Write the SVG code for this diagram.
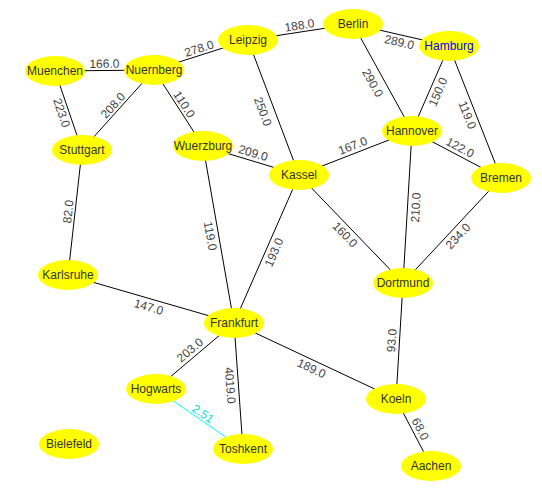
<svg xmlns="http://www.w3.org/2000/svg" width="542" height="502" viewBox="0 0 542 502">
<style>
.e{stroke:#000;stroke-width:1;fill:none}
.c{stroke:#00ffff}
.l{font-family:"Liberation Sans",Arial,sans-serif;font-size:12px;fill:#444;text-anchor:middle}
.lc{fill:#00e0e0}
.n ellipse{fill:#ffff00;stroke:none}
.n text{font-family:"Liberation Sans",Arial,sans-serif;font-size:12px;fill:#333;text-anchor:middle}
</style>
<rect width="542" height="502" fill="#fff"/>
<g id="edges">
<line class="e" x1="55" y1="71" x2="154" y2="70"/>
<line class="e" x1="154" y1="70" x2="248" y2="40"/>
<line class="e" x1="248" y1="40" x2="353" y2="24"/>
<line class="e" x1="353" y1="24" x2="449" y2="46"/>
<line class="e" x1="55" y1="71" x2="82" y2="150"/>
<line class="e" x1="154" y1="70" x2="82" y2="150"/>
<line class="e" x1="154" y1="70" x2="203" y2="146"/>
<line class="e" x1="248" y1="40" x2="299" y2="175"/>
<line class="e" x1="353" y1="24" x2="412" y2="131"/>
<line class="e" x1="449" y1="46" x2="412" y2="131"/>
<line class="e" x1="449" y1="46" x2="501" y2="178"/>
<line class="e" x1="203" y1="146" x2="299" y2="175"/>
<line class="e" x1="299" y1="175" x2="412" y2="131"/>
<line class="e" x1="412" y1="131" x2="501" y2="178"/>
<line class="e" x1="82" y1="150" x2="68" y2="275"/>
<line class="e" x1="203" y1="146" x2="234" y2="323"/>
<line class="e" x1="299" y1="175" x2="234" y2="323"/>
<line class="e" x1="299" y1="175" x2="403" y2="283"/>
<line class="e" x1="412" y1="131" x2="403" y2="283"/>
<line class="e" x1="501" y1="178" x2="403" y2="283"/>
<line class="e" x1="68" y1="275" x2="234" y2="323"/>
<line class="e" x1="403" y1="283" x2="396" y2="399"/>
<line class="e" x1="234" y1="323" x2="396" y2="399"/>
<line class="e" x1="234" y1="323" x2="156" y2="389"/>
<line class="e" x1="234" y1="323" x2="243" y2="449"/>
<line class="e c" x1="156" y1="389" x2="243" y2="449"/>
<line class="e" x1="396" y1="399" x2="431" y2="466"/>
<g id="edge-labels">
<text class="l" dy="0.36em" transform="translate(104.4,63.5) rotate(-0.6)">166.0</text>
<text class="l" dy="0.36em" transform="translate(198.9,48.3) rotate(-17.7)">278.0</text>
<text class="l" dy="0.36em" transform="translate(299.4,25.1) rotate(-8.66)">188.0</text>
<text class="l" dy="0.36em" transform="translate(399.4,41.8) rotate(12.9)">289.0</text>
<text class="l" dy="0.36em" transform="translate(61.9,112.8) rotate(71.1)">223.0</text>
<text class="l" dy="0.36em" transform="translate(112.8,105.3) rotate(-48)">208.0</text>
<text class="l" dy="0.36em" transform="translate(184.4,104.2) rotate(57.2)">110.0</text>
<text class="l" dy="0.36em" transform="translate(263.2,111.4) rotate(69.3)">250.0</text>
<text class="l" dy="0.36em" transform="translate(372.9,82.8) rotate(61.1)">290.0</text>
<text class="l" dy="0.36em" transform="translate(437.8,91.7) rotate(-66.5)">150.0</text>
<text class="l" dy="0.36em" transform="translate(467.6,114.9) rotate(68.5)">119.0</text>
<text class="l" dy="0.36em" transform="translate(253.3,152.8) rotate(16.8)">209.0</text>
<text class="l" dy="0.36em" transform="translate(352.6,145.5) rotate(-21.3)">167.0</text>
<text class="l" dy="0.36em" transform="translate(460.2,147.4) rotate(27.8)">122.0</text>
<text class="l" dy="0.36em" transform="translate(68,211.6) rotate(-83.6)">82.0</text>
<text class="l" dy="0.36em" transform="translate(210.6,235.9) rotate(80.1)">119.0</text>
<text class="l" dy="0.36em" transform="translate(273.8,252.2) rotate(-66.3)">193.0</text>
<text class="l" dy="0.36em" transform="translate(345.2,234.5) rotate(46.1)">160.0</text>
<text class="l" dy="0.36em" transform="translate(415.5,207.5) rotate(-86.6)">210.0</text>
<text class="l" dy="0.36em" transform="translate(457.8,236) rotate(-47)">234.0</text>
<text class="l" dy="0.36em" transform="translate(148.8,306.7) rotate(16.1)">147.0</text>
<text class="l" dy="0.36em" transform="translate(391.5,340.5) rotate(-86.5)">93.0</text>
<text class="l" dy="0.36em" transform="translate(311.6,368.2) rotate(25.1)">189.0</text>
<text class="l" dy="0.36em" transform="translate(189.8,349.9) rotate(-40.2)">203.0</text>
<text class="l" dy="0.36em" transform="translate(230.5,385.4) rotate(85.9)">4019.0</text>
<text class="l lc" dy="0.36em" transform="translate(203,413.5) rotate(34.6)">2.51</text>
<text class="l" dy="0.36em" transform="translate(420.6,428.8) rotate(62.4)">68.0</text>
</g>
</g>
<g id="Muenchen" class="n"><ellipse cx="55" cy="71" rx="30" ry="15"/><text x="55" y="71" dy="0.36em">Muenchen</text></g>
<g id="Nuernberg" class="n"><ellipse cx="154" cy="70" rx="30" ry="15"/><text x="154" y="70" dy="0.36em">Nuernberg</text></g>
<g id="Leipzig" class="n"><ellipse cx="248" cy="40" rx="30" ry="15"/><text x="248" y="40" dy="0.36em">Leipzig</text></g>
<g id="Berlin" class="n"><ellipse cx="353" cy="24" rx="30" ry="15"/><text x="353" y="24" dy="0.36em">Berlin</text></g>
<g id="Hamburg" class="n"><ellipse cx="449" cy="46" rx="30" ry="15"/><text x="449" y="46" dy="0.36em" style="fill:#0000ff">Hamburg</text></g>
<g id="Stuttgart" class="n"><ellipse cx="82" cy="150" rx="30" ry="15"/><text x="82" y="150" dy="0.36em">Stuttgart</text></g>
<g id="Wuerzburg" class="n"><ellipse cx="203" cy="146" rx="30" ry="15"/><text x="203" y="146" dy="0.36em">Wuerzburg</text></g>
<g id="Kassel" class="n"><ellipse cx="299" cy="175" rx="30" ry="15"/><text x="299" y="175" dy="0.36em">Kassel</text></g>
<g id="Hannover" class="n"><ellipse cx="412" cy="131" rx="30" ry="15"/><text x="412" y="131" dy="0.36em">Hannover</text></g>
<g id="Bremen" class="n"><ellipse cx="501" cy="178" rx="30" ry="15"/><text x="501" y="178" dy="0.36em">Bremen</text></g>
<g id="Karlsruhe" class="n"><ellipse cx="68" cy="275" rx="30" ry="15"/><text x="68" y="275" dy="0.36em">Karlsruhe</text></g>
<g id="Frankfurt" class="n"><ellipse cx="234" cy="323" rx="30" ry="15"/><text x="234" y="323" dy="0.36em">Frankfurt</text></g>
<g id="Dortmund" class="n"><ellipse cx="403" cy="283" rx="30" ry="15"/><text x="403" y="283" dy="0.36em">Dortmund</text></g>
<g id="Hogwarts" class="n"><ellipse cx="156" cy="389" rx="30" ry="15"/><text x="156" y="389" dy="0.36em">Hogwarts</text></g>
<g id="Toshkent" class="n"><ellipse cx="243" cy="449" rx="30" ry="15"/><text x="243" y="449" dy="0.36em">Toshkent</text></g>
<g id="Koeln" class="n"><ellipse cx="396" cy="399" rx="30" ry="15"/><text x="396" y="399" dy="0.36em">Koeln</text></g>
<g id="Aachen" class="n"><ellipse cx="431" cy="466" rx="30" ry="15"/><text x="431" y="466" dy="0.36em">Aachen</text></g>
<g id="Bielefeld" class="n"><ellipse cx="69" cy="444" rx="30" ry="15"/><text x="69" y="444" dy="0.36em">Bielefeld</text></g>
</svg>
